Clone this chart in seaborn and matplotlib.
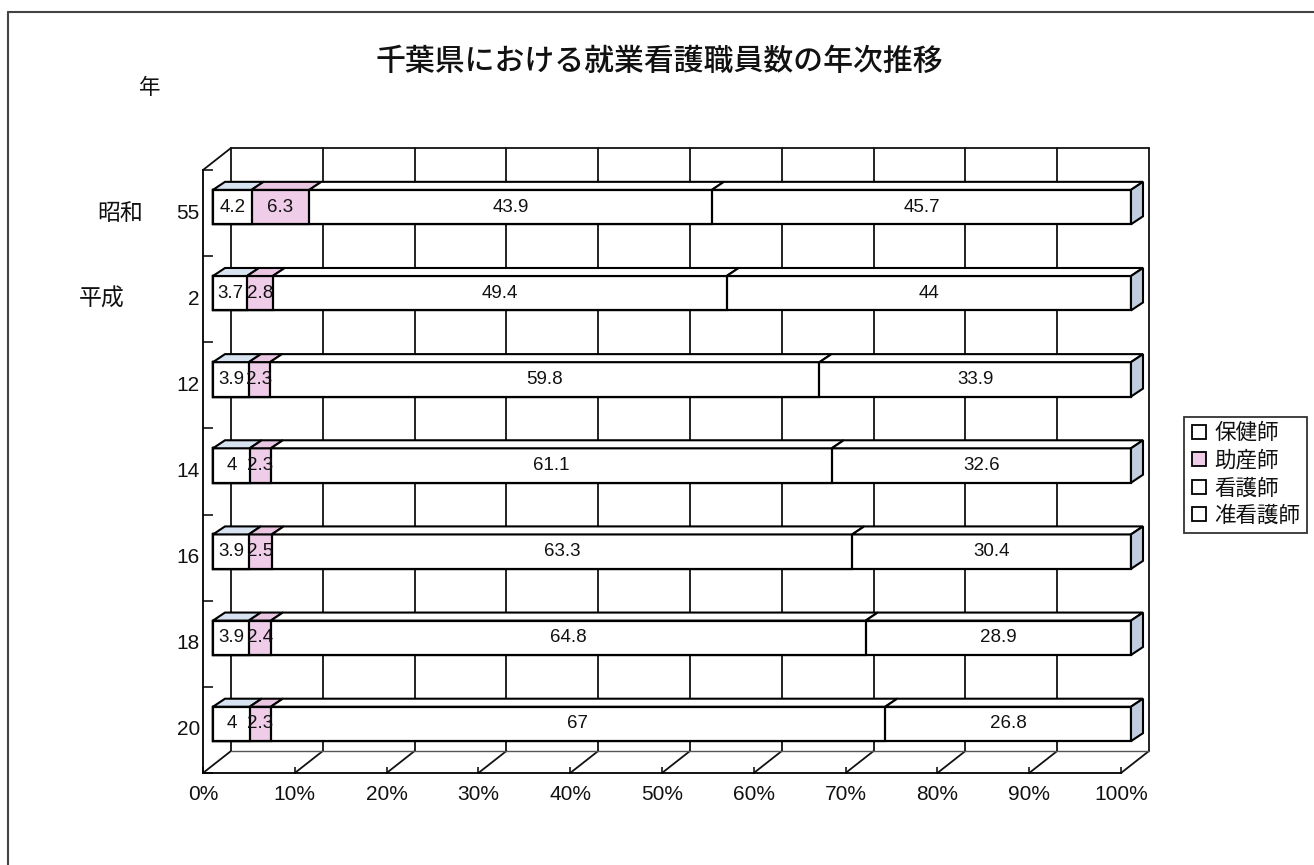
import numpy as np
import pandas as pd
import matplotlib
matplotlib.use('Agg')
import matplotlib.pyplot as plt
from matplotlib.patches import Polygon
from matplotlib.lines import Line2D
from matplotlib.transforms import ScaledTranslation
import seaborn as sns

years = ['55', '2', '12', '14', '16', '18', '20']
eras = {'55': '昭和', '2': '平成'}
series = ['保健師', '助産師', '看護師', '准看護師']
hokenshi = [4.2, 3.7, 3.9, 4, 3.9, 3.9, 4]
josanshi = [6.3, 2.8, 2.3, 2.3, 2.5, 2.4, 2.3]
kangoshi = [43.9, 49.4, 59.8, 61.1, 63.3, 64.8, 67]
junkangoshi = [45.7, 44, 33.9, 32.6, 30.4, 28.9, 26.8]
xticks = list(range(0, 101, 10))

face_colors = ['white', '#efcde8', 'white', 'white']
top_colors = ['#d8e3f1', '#eac6e3', 'white', 'white']
side_color = '#bfcddf'
txt = '#111111'

sns.set_theme(style='white')
plt.rcParams['font.family'] = ['Liberation Sans', 'Noto Sans CJK JP', 'DejaVu Sans']

df = pd.DataFrame({'year': years, '保健師': hokenshi, '助産師': josanshi,
                   '看護師': kangoshi, '准看護師': junkangoshi})
raw = df[series].values
pct = raw / raw.sum(axis=1, keepdims=True) * 100
cum = np.cumsum(pct, axis=1)
left = cum - pct

fig = plt.figure(figsize=(13.14, 8.65), dpi=100)
ax = fig.add_axes([203 / 1314, 92 / 865, 918 / 1314, 603 / 865])

# stacked bars: draw cumulative totals, widest first
for k in reversed(range(len(series))):
    sns.barplot(x=cum[:, k], y=df['year'], orient='h', color=face_colors[k],
                saturation=1, edgecolor='black', linewidth=1.6, width=0.4,
                errorbar=None, ax=ax, zorder=3)

ax.set_xlim(0, 100)
ax.set_ylim(6.5, -0.5)
n = len(years)

# pixel -> data conversion for the fake depth
px_x = ax.bbox.width / 100
px_y = ax.bbox.height / n
fx, fy = 10 / px_x, -6 / px_y      # bar front face
bx, by = 22 / px_x, -14 / px_y     # bar back face
wx, wy = 28 / px_x, -22 / px_y     # back wall

front_tr = ax.transData + ScaledTranslation(10 / 100, 6 / 100, fig.dpi_scale_trans)
for p in ax.patches:
    p.set_transform(front_tr)
    p.set_clip_on(False)

# walls and floor
line_kw = dict(color='#111111', lw=1.3, clip_on=False, zorder=1)
for v in xticks:
    ax.plot([v + wx, v + wx], [6.5 + wy, -0.5 + wy], **line_kw)
    ax.plot([v, v + wx], [6.5, 6.5 + wy], **line_kw)
ax.plot([wx, 100 + wx], [-0.5 + wy, -0.5 + wy], **line_kw)
ax.plot([wx, 100 + wx], [6.5 + wy, 6.5 + wy], color='#555555', lw=1.0, clip_on=False, zorder=1)
ax.plot([0, wx], [-0.5, -0.5 + wy], **line_kw)

# top and side faces
for i in range(n):
    yt, yb = i - 0.2, i + 0.2
    for k in range(len(series)):
        l, r = left[i, k], cum[i, k]
        ax.add_patch(Polygon([(l + fx, yt + fy), (r + fx, yt + fy), (r + bx, yt + by), (l + bx, yt + by)],
                             closed=True, facecolor=top_colors[k], edgecolor='black',
                             lw=1.5, clip_on=False, zorder=3))
        ax.text((l + r) / 2 + fx, i + fy, f'{raw[i, k]:g}', ha='center', va='center',
                fontsize=13.5, color=txt, zorder=5, clip_on=False)
    r = cum[i, -1]
    ax.add_patch(Polygon([(r + fx, yt + fy), (r + bx, yt + by), (r + bx, yb + by), (r + fx, yb + fy)],
                         closed=True, facecolor=side_color, edgecolor='black',
                         lw=1.5, clip_on=False, zorder=3))

# axes styling
for s in ['top', 'right']:
    ax.spines[s].set_visible(False)
for s in ['left', 'bottom']:
    ax.spines[s].set_color('black')
    ax.spines[s].set_linewidth(1.3)
ax.set_xticks(xticks, labels=[f'{v}%' for v in xticks])
ax.set_yticks(np.arange(-0.5, n, 1), labels=[])
ax.tick_params(axis='x', direction='in', length=4.5, width=1.1, color='black',
               pad=9, labelsize=15, labelcolor=txt, bottom=True)
ax.tick_params(axis='y', direction='in', length=7.5, width=1.1, color='black', left=True)
ax.set_xlabel('')
ax.set_ylabel('')

for i, yr in enumerate(years):
    ax.text(-0.35, i, yr, ha='right', va='center', fontsize=15, color=txt)
ax.text(-6.5, 0, eras['55'], ha='right', va='center', fontsize=16.5, color=txt)
ax.text(-8.5, 1, eras['2'], ha='right', va='center', fontsize=16.5, color=txt)

fig.text(150 / 1314, 1 - 88 / 865, '年', ha='center', va='center', fontsize=15.5, color=txt)
fig.text(659 / 1314, 1 - 62 / 865, '千葉県における就業看護職員数の年次推移',
         ha='center', va='center', fontsize=21.5, fontweight='medium', color=txt)

handles = [Line2D([], [], marker='s', linestyle='none', markersize=10,
                  markerfacecolor=face_colors[k], markeredgecolor='black', markeredgewidth=1.3)
           for k in range(len(series))]
leg = fig.legend(handles, series, loc='upper left', bbox_to_anchor=(1184 / 1314, 1 - 417 / 865),
                 frameon=True, fancybox=False, edgecolor='black', fontsize=15.5,
                 handlelength=0.8, handletextpad=0.3, borderpad=0.3, labelspacing=0.3,
                 borderaxespad=0)
leg.get_frame().set_linewidth(1.3)
for t in leg.get_texts():
    t.set_color(txt)

# outer frame of the sheet
fig.add_artist(Line2D([8 / 1314, 8 / 1314], [0, 1 - 12 / 865], color='#444444', lw=1.5))
fig.add_artist(Line2D([8 / 1314, 1], [1 - 12 / 865, 1 - 12 / 865], color='#444444', lw=1.5))

fig.savefig('out.png', dpi=100)
